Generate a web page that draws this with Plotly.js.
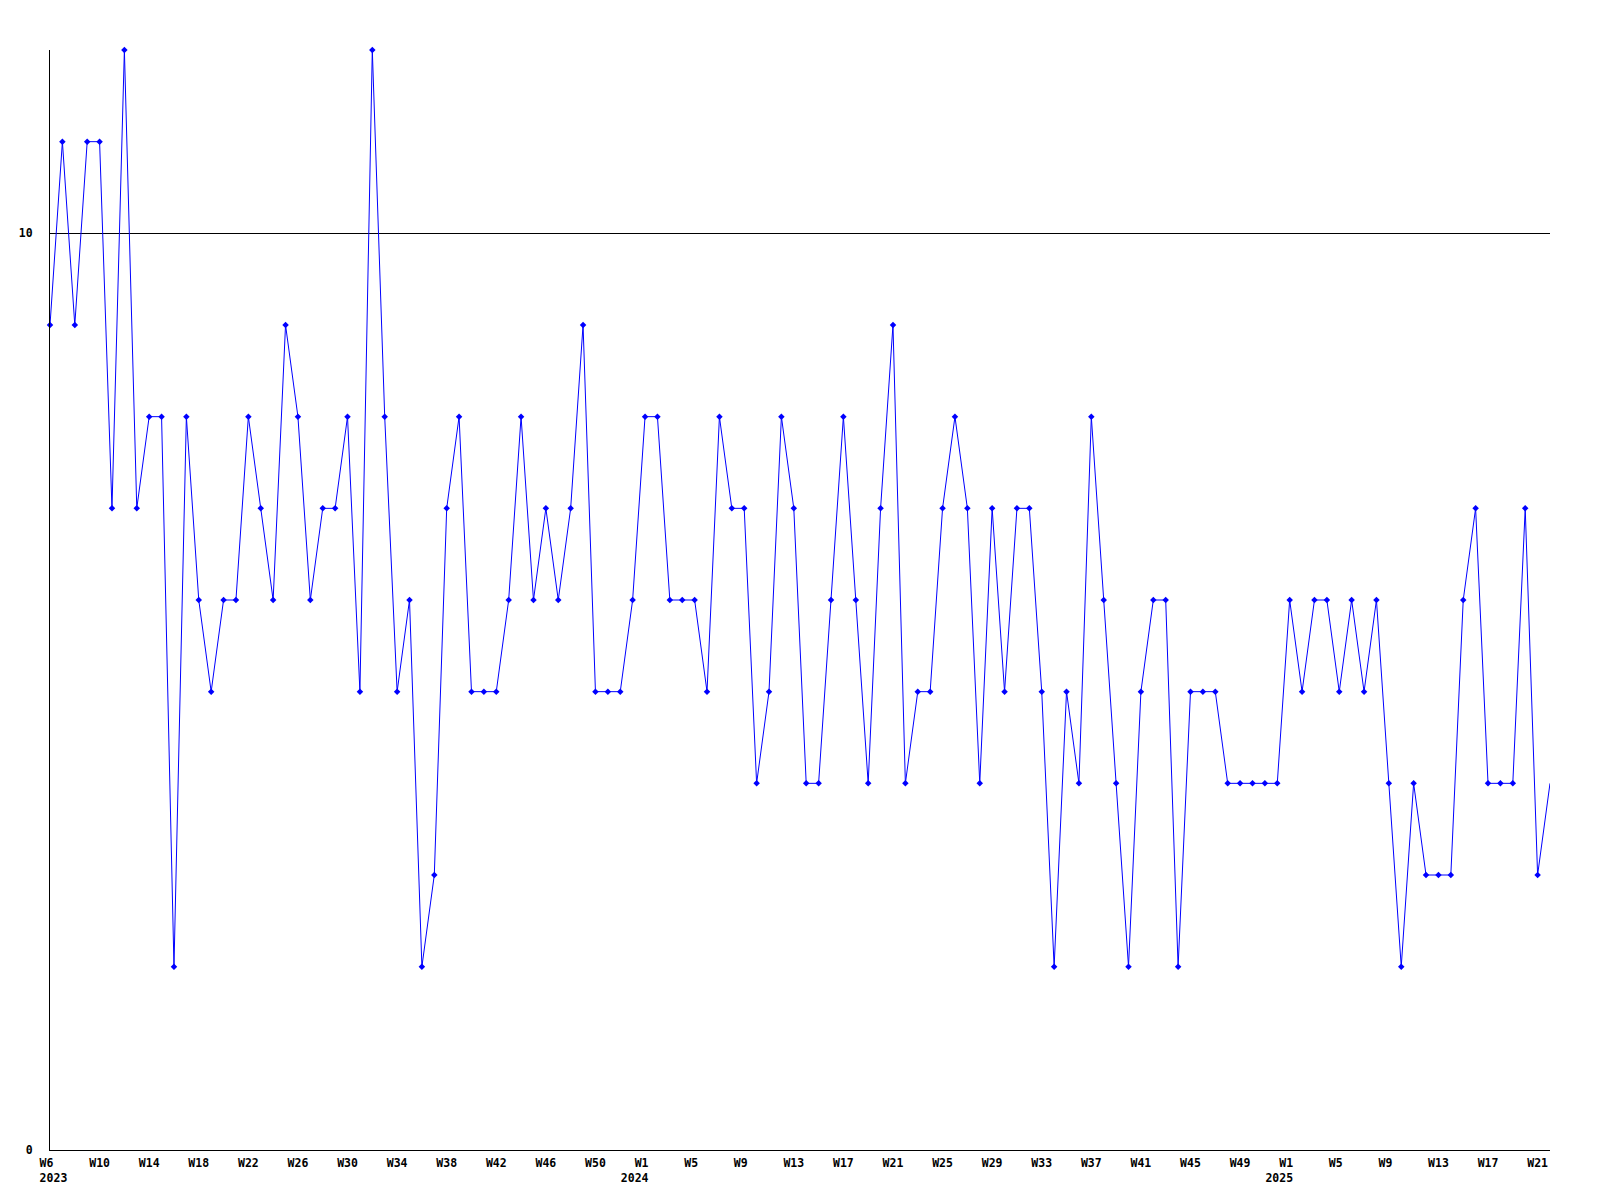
<!DOCTYPE html>
<html><head><meta charset="utf-8">
<script src="https://cdn.plot.ly/plotly-3.0.1.min.js"></script>
<style>html,body{margin:0;padding:0;background:#fff}</style>
</head><body><div id="chart" style="width:1600px;height:1200px"></div>
<script>
const weeks2023 = ["W6","W7","W8","W9","W10","W11","W12","W13","W14","W15","W16","W17","W18","W19","W20","W21","W22","W23","W24","W25","W26","W27","W28","W29","W30","W31","W32","W33","W34","W35","W36","W37","W38","W39","W40","W41","W42","W43","W44","W45","W46","W47","W48","W49","W50","W51","W52","W53"];
const weeks2024 = ["W1","W2","W3","W4","W5","W6","W7","W8","W9","W10","W11","W12","W13","W14","W15","W16","W17","W18","W19","W20","W21","W22","W23","W24","W25","W26","W27","W28","W29","W30","W31","W32","W33","W34","W35","W36","W37","W38","W39","W40","W41","W42","W43","W44","W45","W46","W47","W48","W49","W50","W51","W52"];
const weeks2025 = ["W1","W2","W3","W4","W5","W6","W7","W8","W9","W10","W11","W12","W13","W14","W15","W16","W17","W18","W19","W20","W21","W22"];

const values = [
  9, 11, 9, 11, 11, 7, 12, 7, 8, 8,
  2, 8, 6, 5, 6, 6, 8, 7, 6, 9,
  8, 6, 7, 7, 8, 5, 12, 8, 5, 6,
  2, 3, 7, 8, 5, 5, 5, 6, 8, 6,
  7, 6, 7, 9, 5, 5, 5, 6, 8, 8,
  6, 6, 6, 5, 8, 7, 7, 4, 5, 8,
  7, 4, 4, 6, 8, 6, 4, 7, 9, 4,
  5, 5, 7, 8, 7, 4, 7, 5, 7, 7,
  5, 2, 5, 4, 8, 6, 4, 2, 5, 6,
  6, 2, 5, 5, 5, 4, 4, 4, 4, 4,
  6, 5, 6, 6, 5, 6, 5, 6, 4, 2,
  4, 3, 3, 3, 6, 7, 4, 4, 4, 7,
  3, 4
];

const tickWeeks = ["2023-W6","2023-W10","2023-W14","2023-W18","2023-W22","2023-W26","2023-W30","2023-W34","2023-W38","2023-W42","2023-W46","2023-W50",
  "2024-W1","2024-W5","2024-W9","2024-W13","2024-W17","2024-W21","2024-W25","2024-W29","2024-W33","2024-W37","2024-W41","2024-W45","2024-W49",
  "2025-W1","2025-W5","2025-W9","2025-W13","2025-W17","2025-W21"];
const tickLabels = ["W6","W10","W14","W18","W22","W26","W30","W34","W38","W42","W46","W50",
  "W1","W5","W9","W13","W17","W21","W25","W29","W33","W37","W41","W45","W49",
  "W1","W5","W9","W13","W17","W21"];
const tickYears = {"2023-W6":"2023","2024-W1":"2024","2025-W1":"2025"};
const yTicks = [0, 10];

const categories = []
  .concat(weeks2023.map(w => "2023-" + w))
  .concat(weeks2024.map(w => "2024-" + w))
  .concat(weeks2025.map(w => "2025-" + w));

// monospace padding so that labels start just left of their week, as in the original
const NB = "\u00A0";
function padTo(s, n){ while (s.length < n) s += NB; return s; }
const tickText = tickWeeks.map((k, i) => {
  const top = padTo(NB + NB + tickLabels[i], 7);
  const yr = tickYears[k];
  if (!yr) return top;
  const bottom = (k === tickWeeks[0]) ? padTo(NB + NB + yr, 7) : padTo(yr, 7);
  return top + "<br>" + bottom;
});

const font = {family: "DejaVu Sans Mono, monospace", size: 11.5, color: "#000", weight: "bold"};

Plotly.newPlot("chart", [{
  x: categories,
  y: values,
  type: "scatter",
  mode: "lines",
  line: {color: "#0000ff", width: 1},
  cliponaxis: true,
  hoverinfo: "skip"
}, {
  x: categories.slice(0, -1),
  y: values.slice(0, -1),
  type: "scatter",
  mode: "markers",
  marker: {color: "#0000ff", symbol: "diamond", size: 5},
  cliponaxis: false,
  hoverinfo: "skip"
}], {
  width: 1600, height: 1200,
  margin: {l: 50, r: 50, t: 50, b: 50},
  paper_bgcolor: "#fff", plot_bgcolor: "#fff",
  showlegend: false,
  font: font,
  xaxis: {
    type: "category",
    range: [0, 121],
    tickmode: "array", tickvals: tickWeeks, ticktext: tickText,
    tickangle: 0,
    ticks: "", showgrid: false, zeroline: false,
    showline: true, linecolor: "#000", linewidth: 1,
    tickfont: font, ticklabelstandoff: 2,
    fixedrange: true
  },
  yaxis: {
    range: [0, 12],
    tickmode: "array", tickvals: yTicks, ticktext: yTicks.map(String),
    ticks: "", showgrid: true, gridcolor: "#000", gridwidth: 1,
    zeroline: false, showline: true, linecolor: "#000", linewidth: 1,
    tickfont: font, ticklabelstandoff: 14,
    fixedrange: true
  }
}, {staticPlot: true, displayModeBar: false});
</script>
</body></html>
